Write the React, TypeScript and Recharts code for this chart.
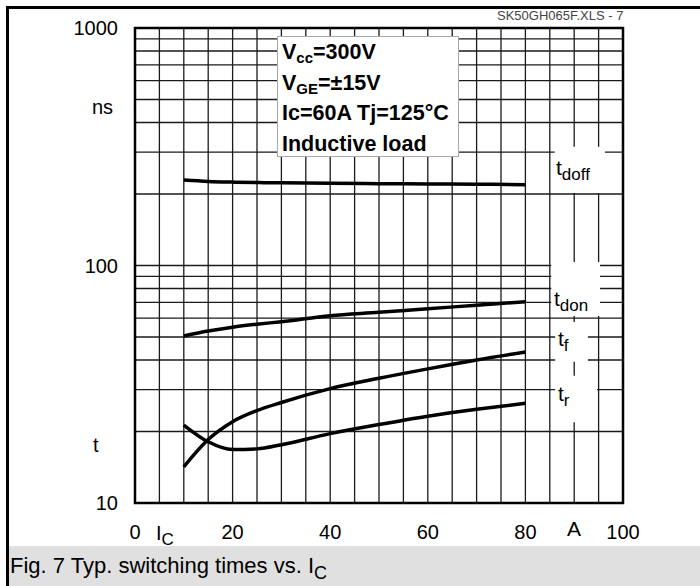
import React from 'react';
import { LineChart, Line, XAxis, YAxis, CartesianGrid, ReferenceArea } from 'recharts';

// collector current, A
const currents = [10, 15, 20, 25, 30, 40, 50, 60, 70, 80];
// switching times, ns
const tDoff = [229, 226, 224.5, 223.5, 223, 222, 221, 220.5, 220, 219];
const tDon = [50.5, 53, 55, 56.6, 58, 61.5, 63.5, 65.8, 68, 70.4];
const tF = [14.2, 18.5, 22, 24.5, 26.5, 30.3, 33.5, 36.7, 40, 43.2];
const tR = [21.3, 18.1, 16.8, 16.9, 17.6, 19.6, 21.4, 23.2, 24.8, 26.3];

const xGrid = [0, 5, 10, 15, 20, 25, 30, 35, 40, 45, 50, 55, 60, 65, 70, 75, 80, 85, 90, 95, 100];
const xLabels = [0, 20, 40, 60, 80, 100];
const yGrid = [10, 20, 30, 40, 50, 60, 70, 80, 90, 100, 200, 300, 400, 500, 600, 700, 800, 900, 1000];
const yLabels = [10, 100, 1000];

// white gaps in the grid behind the curve names
const labelBoxes = [
  { x1: 86, x2: 96.3, y1: 202, y2: 316 },
  { x1: 85.3, x2: 95.3, y1: 61.3, y2: 103.4 },
  { x1: 86.1, x2: 92.8, y1: 39.3, y2: 57.8 },
  { x1: 86.1, x2: 94.7, y1: 21.9, y2: 34.3 },
];

const data = currents.map((x, i) => ({ x, tdoff: tDoff[i], tdon: tDon[i], tf: tF[i], tr: tR[i] }));

const font = '"Liberation Sans", Arial, sans-serif';
const tickStyle = { fill: '#000', fontSize: 20, fontFamily: font };

const abs = (left: number, top: number, extra: React.CSSProperties = {}): React.CSSProperties => ({
  position: 'absolute', left, top, fontFamily: font, fontSize: 20, lineHeight: '20px', color: '#000', whiteSpace: 'nowrap', ...extra,
});

const Sub = ({ children, size = 17, drop = -5 }: { children: React.ReactNode; size?: number; drop?: number }) => (
  <span style={{ fontSize: size, verticalAlign: drop, lineHeight: 0 }}>{children}</span>
);

export default function App() {
  return (
    <div style={{ position: 'absolute', left: 0, top: 0, width: 700, height: 586, background: '#fff', overflow: 'hidden' }}>
      <div style={{ position: 'absolute', left: 6, top: 6, width: 694, height: 580, borderTop: '3px solid #000', borderLeft: '3px solid #000' }} />
      <div style={abs(497, 9, { fontSize: 13, lineHeight: '14px', color: '#444' })}>SK50GH065F.XLS - 7</div>

      <div style={{ position: 'absolute', left: 0, top: 0 }}>
        <LineChart width={700} height={586} data={data} margin={{ top: 28, right: 77, bottom: 43, left: 75 }}>
          <CartesianGrid stroke="#1a1a1a" strokeWidth={1.3} />
          <XAxis
            type="number"
            dataKey="x"
            domain={[0, 100]}
            ticks={xGrid}
            interval={0}
            height={40}
            axisLine={false}
            tickLine={false}
            tickSize={0}
            tickMargin={22}
            tick={tickStyle}
            tickFormatter={(v: number) => (xLabels.includes(v) ? String(v) : '')}
          />
          <YAxis
            type="number"
            scale="log"
            domain={[10, 1000]}
            allowDataOverflow
            ticks={yGrid}
            interval={0}
            width={60}
            axisLine={false}
            tickLine={false}
            tickSize={0}
            tickMargin={17}
            tick={tickStyle}
            tickFormatter={(v: number) => (yLabels.includes(v) ? String(v) : '')}
          />
          {labelBoxes.map((b, i) => (
            <ReferenceArea key={i} x1={b.x1} x2={b.x2} y1={b.y1} y2={b.y2} fill="#fff" fillOpacity={1} stroke="none" />
          ))}
          <ReferenceArea x1={0} x2={100} y1={10} y2={1000} fill="none" stroke="#000" strokeWidth={2.5} />
          <Line dataKey="tdoff" type="monotone" stroke="#000" strokeWidth={3.5} dot={false} isAnimationActive={false} />
          <Line dataKey="tdon" type="monotone" stroke="#000" strokeWidth={3.5} dot={false} isAnimationActive={false} />
          <Line dataKey="tf" type="monotone" stroke="#000" strokeWidth={3.5} dot={false} isAnimationActive={false} />
          <Line dataKey="tr" type="monotone" stroke="#000" strokeWidth={3.5} dot={false} isAnimationActive={false} />
        </LineChart>
      </div>

      <div style={{ position: 'absolute', left: 277, top: 36, width: 180, height: 119, border: '1px solid #aaa', background: '#fff' }}>
        <div style={{ position: 'relative', left: 4, top: 0, fontFamily: font, fontWeight: 'bold', fontSize: 21.5, lineHeight: '30.5px', whiteSpace: 'nowrap' }}>
          <div>V<Sub size={15} drop={-4}>cc</Sub>=300V</div>
          <div>V<Sub size={15} drop={-4}>GE</Sub>=±15V</div>
          <div>Ic=60A Tj=125°C</div>
          <div>Inductive load</div>
        </div>
      </div>

      <div style={abs(556, 158, { fontSize: 21 })}>t<Sub>doff</Sub></div>
      <div style={abs(554, 289, { fontSize: 21 })}>t<Sub>don</Sub></div>
      <div style={abs(558, 329, { fontSize: 21 })}>t<Sub>f</Sub></div>
      <div style={abs(558, 384, { fontSize: 21 })}>t<Sub>r</Sub></div>

      <div style={abs(92, 97)}>ns</div>
      <div style={abs(93, 435)}>t</div>
      <div style={abs(156, 523)}>I<Sub>C</Sub></div>
      <div style={abs(567, 519, { fontSize: 21 })}>A</div>

      <div style={{ position: 'absolute', left: 9, top: 546, width: 691, height: 40, background: '#e0e0e0' }}>
        <div style={abs(1, 9, { fontSize: 22, lineHeight: '22px' })}>
          Fig. 7 Typ. switching times vs. I<Sub size={18} drop={-6}>C</Sub>
        </div>
      </div>
    </div>
  );
}
